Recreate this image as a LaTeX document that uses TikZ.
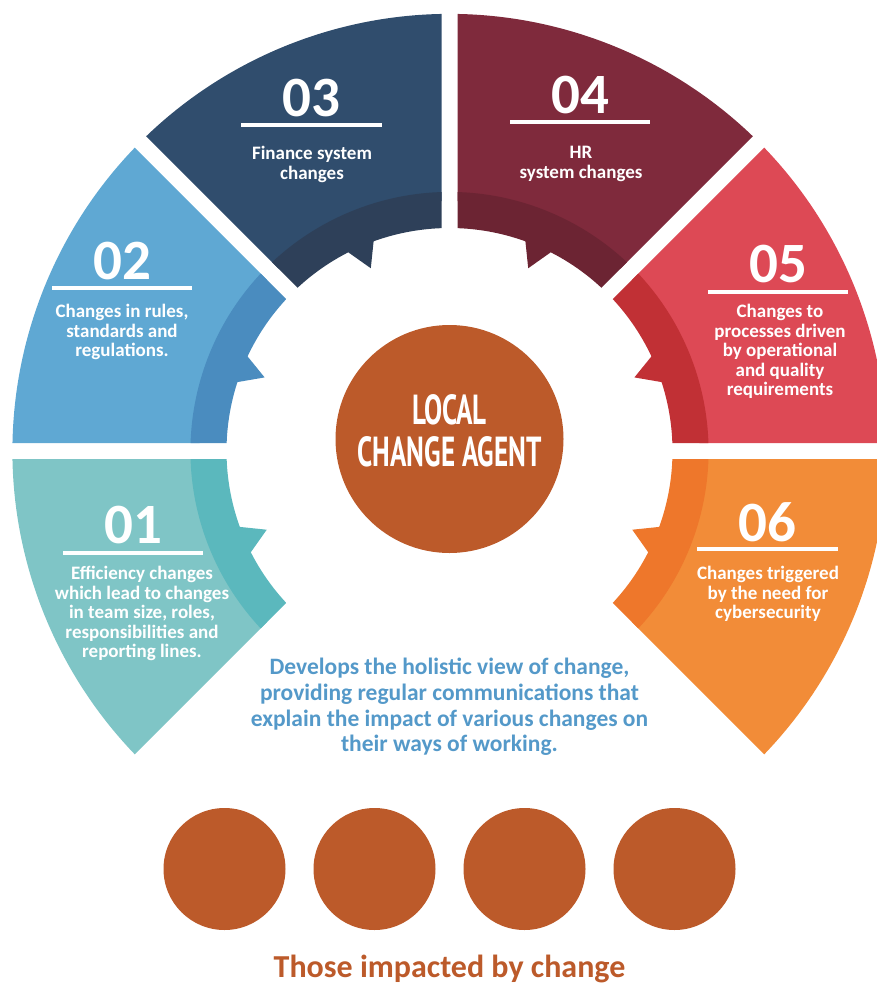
\documentclass[tikz,border=0pt]{standalone}
\usepackage{fontspec}
\setmainfont{Carlito}
\newfontfamily\headfont{PT Sans}
\definecolor{aL}{HTML}{7FC5C6}\definecolor{aD}{HTML}{5BB8BD}
\definecolor{bL}{HTML}{5FA8D3}\definecolor{bD}{HTML}{4A8CBF}
\definecolor{cL}{HTML}{304D6D}\definecolor{cD}{HTML}{2E4059}
\definecolor{dL}{HTML}{7F2A3C}\definecolor{dD}{HTML}{6C2433}
\definecolor{eL}{HTML}{DD4955}\definecolor{eD}{HTML}{C13035}
\definecolor{fL}{HTML}{F28C38}\definecolor{fD}{HTML}{EE772B}
\definecolor{rust}{HTML}{BC5A2A}
\definecolor{blueText}{HTML}{5499C9}
\newcommand{\segment}[3]{%
  \begin{scope}[#1]
    \begin{scope}
      \clip (-8,19.3) -- (-8,620) -- (-608,619.3) -- cycle;
      \fill[#2] (70:250) arc[start angle=70,end angle=160,radius=250] -- (160:437)
        arc[start angle=160,end angle=70,radius=437] -- cycle;
      \fill[#3] (70:223) arc[start angle=70,end angle=109.9,radius=223]
        -- (113.3:199) -- (117:223) arc[start angle=117,end angle=160,radius=223]
        -- (160:259) arc[start angle=160,end angle=70,radius=259] -- cycle;
    \end{scope}
  \end{scope}}
\tikzset{
  numlabel/.style={text=white,font=\bfseries\fontsize{57}{57}\selectfont,inner sep=0pt,anchor=center},
  seglabel/.style={text=white,font=\bfseries\fontsize{19}{19.5}\selectfont,align=center,inner sep=0pt,anchor=north},
  rulebar/.style={white,line width=3.5pt},
  person/.style={circle,fill=rust,minimum size=122pt,inner sep=0pt},
}
\begin{document}
\begin{tikzpicture}[x=1pt,y=-1pt]
\useasboundingbox (0,0) rectangle (876,985);
\begin{scope}[shift={(449.5,451)},y=1pt]
  \segment{rotate=90}{aL}{aD}
  \segment{rotate=45}{bL}{bD}
  \segment{}{cL}{cD}
  \segment{xscale=-1}{dL}{dD}
  \segment{xscale=-1,rotate=45}{eL}{eD}
  \segment{xscale=-1,rotate=90}{fL}{fD}
\end{scope}
% numbers, rules, labels
\node[numlabel] (n1) at (133,525) {01};
\draw[rulebar] (63,553) -- (203,553);
\node[seglabel] (t1) at (142,566) {Efficiency changes\\which lead to changes\\in team size, roles,\\responsibilities and\\reporting lines.};
\node[numlabel] (n2) at (122,261) {02};
\draw[rulebar] (52,288) -- (192,288);
\node[seglabel] (t2) at (122,304) {Changes in rules,\\standards and\\regulations.};
\node[numlabel] (n3) at (311,98) {03};
\draw[rulebar] (241,125) -- (382,125);
\node[seglabel] (t3) at (312,146) {Finance system\\changes};
\node[numlabel] (n4) at (580,95) {04};
\draw[rulebar] (510,122) -- (650,122);
\node[seglabel] (t4) at (581,146) {HR\\system changes};
\node[numlabel] (n5) at (778,264) {05};
\draw[rulebar] (708,292) -- (848,292);
\node[seglabel] (t5) at (780,304) {Changes to\\processes driven\\by operational\\and quality\\requirements};
\node[numlabel] (n6) at (767,522) {06};
\draw[rulebar] (697,549) -- (838,549);
\node[seglabel] (t6) at (768,566) {Changes triggered\\by the need for\\cybersecurity};
% centre
\node[circle,fill=rust,minimum size=228pt,inner sep=0pt] (agent) at (449.5,439) {};
\node[text=white,inner sep=0pt] (agentA) at (449.5,410) {\scalebox{0.645}[1]{\headfont\bfseries\fontsize{42}{42}\selectfont LOCAL}};
\node[text=white,inner sep=0pt] (agentB) at (449.5,452) {\scalebox{0.645}[1]{\headfont\bfseries\fontsize{42}{42}\selectfont CHANGE AGENT}};
% caption
\node[text=blueText,font=\bfseries\fontsize{23.5}{25.7}\selectfont,align=center,inner sep=0pt,anchor=north] (caption) at (449.5,658)
 {Develops the holistic view of change,\\providing regular communications that\\explain the impact of various changes on\\their ways of working.};
% people
\node[person] (p1) at (224.5,869) {};
\node[person] (p2) at (374.5,869) {};
\node[person] (p3) at (524.5,869) {};
\node[person] (p4) at (674.5,869) {};
\node[text=rust,font=\bfseries\fontsize{32}{34}\selectfont,inner sep=0pt] (footer) at (449.5,968.5) {Those impacted by change};
\end{tikzpicture}
\end{document}
